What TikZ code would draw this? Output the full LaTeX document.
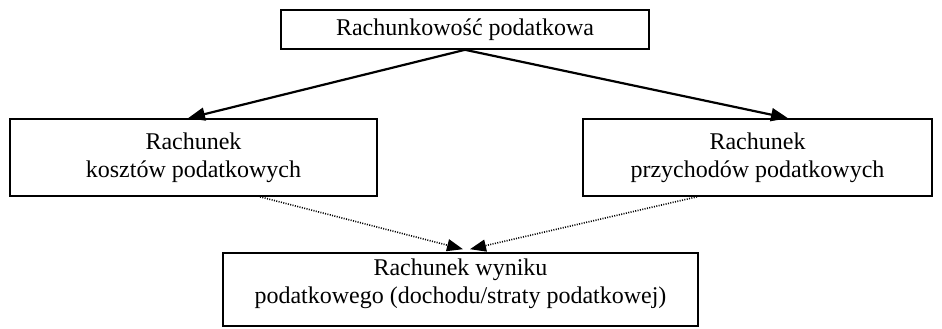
\documentclass[tikz,border=0pt]{standalone}
\usepackage{fontspec}
\setmainfont{Liberation Serif}
\usetikzlibrary{arrows.meta,calc}
\begin{document}
\begin{tikzpicture}[x=0.5pt,y=-0.5pt,
  box/.style={draw=black,line width=0.8pt,inner sep=0pt,align=center,font=\fontsize{12}{14}\selectfont},
  solidarrow/.style={line width=1.1pt,-{Triangle[length=8.5pt,width=6.5pt]}},
  dotarrow/.style={line width=0.8pt,dash pattern=on 0.5pt off 0.7pt,-{Triangle[length=8pt,width=6pt]}}]
\useasboundingbox (0,0) rectangle (942,328);
\node[box,minimum width=184pt,minimum height=19.5pt] (top) at (465,29.5) {Rachunkowość podatkowa};
\node[box,minimum width=183.5pt,minimum height=38.5pt] (left) at (193.5,157.5) {Rachunek\\kosztów podatkowych};
\node[box,minimum width=174.5pt,minimum height=38.5pt] (right) at (757.5,157.5) {Rachunek\\przychodów podatkowych};
\node[box,minimum width=237.5pt,minimum height=36.5pt] (bottom) at (460.5,289.5) {};
\node[align=center,font=\fontsize{12}{14}\selectfont,inner sep=0pt] (bottomtext) at (460.5,284) {Rachunek wyniku\\podatkowego (dochodu/straty podatkowej)};
\draw[solidarrow] (top.south) -- ($(left.north)+(-5.5,0)$);
\draw[solidarrow] (top.south) -- ($(right.north)+(30.5,0)$);
\draw[dotarrow] ($(left.south)+(66.5,0)$) -- ($(bottom.north)+(2.5,-3)$);
\draw[dotarrow] ($(right.south)+(-60.5,0)$) -- ($(bottom.north)+(9.5,-3)$);
\end{tikzpicture}
\end{document}
